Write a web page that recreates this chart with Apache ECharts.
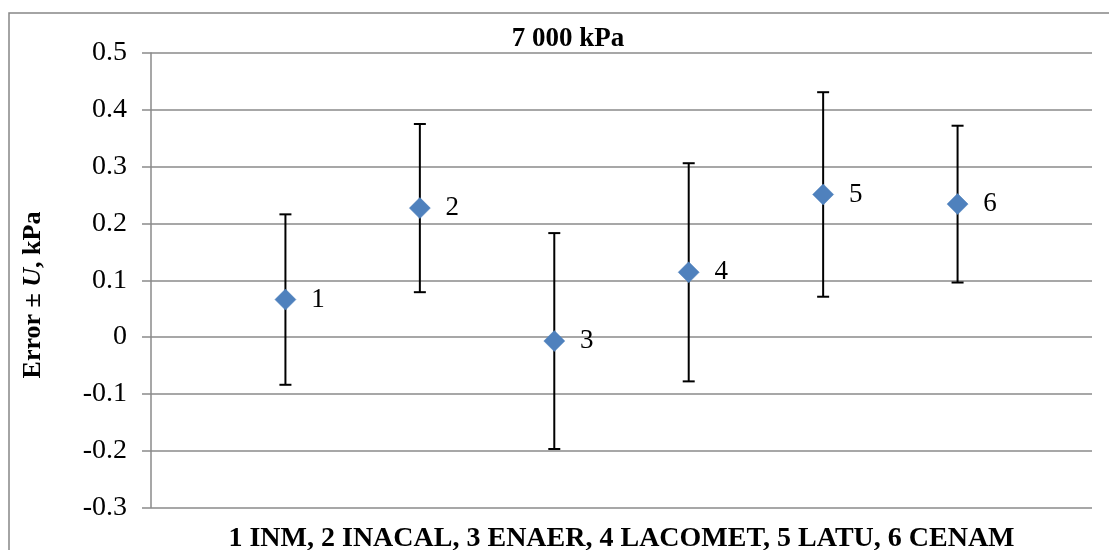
<!DOCTYPE html>
<html>
<head>
<meta charset="utf-8">
<script src="https://cdn.jsdelivr.net/npm/echarts@6/dist/echarts.min.js"></script>
<style>
html,body{margin:0;padding:0;background:#fff;}
#chart{width:1109px;height:550px;}
</style>
</head>
<body>
<div id="chart"></div>
<script>
// Data
var labNumbers = [1, 2, 3, 4, 5, 6];
var errors = [0.066, 0.227, -0.007, 0.114, 0.251, 0.234];
var uncertainties = [0.150, 0.148, 0.190, 0.192, 0.180, 0.138];
var yTicks = [-0.3, -0.2, -0.1, 0, 0.1, 0.2, 0.3, 0.4, 0.5];
var titleText = '7 000 kPa';
var xTitle = '1 INM, 2 INACAL, 3 ENAER, 4 LACOMET, 5 LATU, 6 CENAM';

var pointData = labNumbers.map(function (n, i) { return [n, errors[i]]; });
var barData = labNumbers.map(function (n, i) { return [n, errors[i], uncertainties[i]]; });

var chart = echarts.init(document.getElementById('chart'), null, {renderer: 'canvas'});
var serif = '"Liberation Serif", "Times New Roman", serif';
var gridColor = '#8a8a8a';

chart.setOption({
  animation: false,
  backgroundColor: '#fff',
  title: {
    text: titleText,
    left: 563,
    top: 19,
    textAlign: 'center',
    textStyle: {fontFamily: serif, fontWeight: 'bold', fontSize: 27, color: '#000', lineHeight: 30}
  },
  grid: {left: 151, right: 17, top: 53, bottom: 42.5, containLabel: false, outerBoundsMode: 'none'},
  xAxis: {
    type: 'value', min: 0, max: 7, interval: 1,
    name: xTitle, nameLocation: 'middle', nameGap: 17,
    nameTextStyle: {fontFamily: serif, fontWeight: 'bold', fontSize: 28, color: '#000'},
    axisLine: {show: false}, axisTick: {show: false}, axisLabel: {show: false}, splitLine: {show: false}
  },
  yAxis: {
    type: 'value', min: yTicks[0], max: yTicks[yTicks.length - 1], interval: 0.1,
    axisLine: {show: true, onZero: false, lineStyle: {color: gridColor, width: 1.5}},
    axisTick: {show: true, length: 9, lineStyle: {color: gridColor, width: 1.5}},
    axisLabel: {
      margin: 24, fontFamily: serif, fontSize: 28, color: '#000',
      formatter: function (v) { return String(Math.round(v * 10) / 10); }
    },
    splitLine: {show: true, lineStyle: {color: gridColor, width: 1.5}}
  },
  graphic: [
    {type: 'rect', silent: true, z: -1, shape: {x: 9, y: 13, width: 1300, height: 700},
     style: {fill: null, stroke: '#868686', lineWidth: 1.5}},
    {type: 'text', x: 33, y: 295, rotation: Math.PI / 2,
     style: {
       text: '{b|Error ± }{i|U}{b|, kPa}',
       align: 'center', verticalAlign: 'middle',
       rich: {
         b: {fontFamily: serif, fontWeight: 'bold', fontSize: 26, fill: '#000', color: '#000'},
         i: {fontFamily: serif, fontWeight: 'bold', fontStyle: 'italic', fontSize: 26, fill: '#000', color: '#000'}
       }
     }}
  ],
  series: [
    {
      type: 'custom',
      z: 2,
      data: barData,
      renderItem: function (params, api) {
        var x = api.value(0), y = api.value(1), u = api.value(2);
        var top = api.coord([x, y + u]);
        var bot = api.coord([x, y - u]);
        var cap = 6;
        var st = {stroke: '#000', lineWidth: 2};
        return {
          type: 'group',
          children: [
            {type: 'line', shape: {x1: top[0], y1: top[1], x2: bot[0], y2: bot[1]}, style: st},
            {type: 'line', shape: {x1: top[0] - cap, y1: top[1], x2: top[0] + cap, y2: top[1]}, style: st},
            {type: 'line', shape: {x1: bot[0] - cap, y1: bot[1], x2: bot[0] + cap, y2: bot[1]}, style: st}
          ]
        };
      }
    },
    {
      type: 'scatter',
      z: 3,
      data: pointData,
      symbol: 'diamond',
      symbolSize: [21, 21],
      itemStyle: {color: '#4f81bd', borderColor: '#4a7ebb', borderWidth: 0.5, opacity: 1},
      label: {
        show: true, position: 'right', distance: 15,
        fontFamily: serif, fontSize: 27, color: '#000', textBorderWidth: 0,
        formatter: function (p) { return String(p.value[0]); }
      }
    }
  ]
});
</script>
</body>
</html>
